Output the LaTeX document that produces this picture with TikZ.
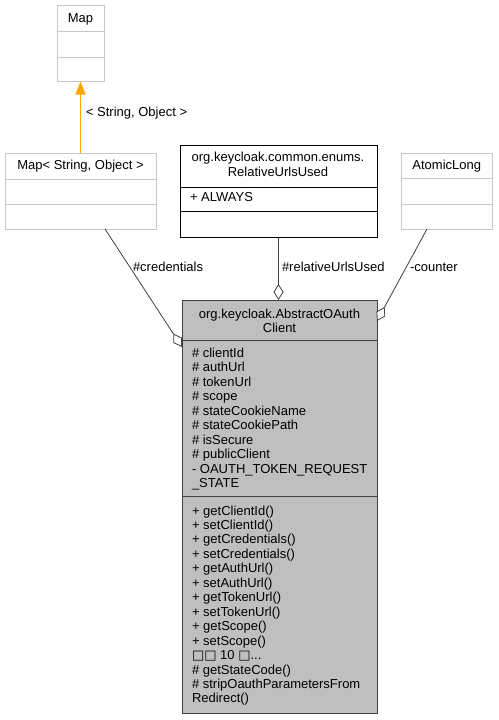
\documentclass[tikz,border=0pt]{standalone}
\usepackage{fontspec}
\setmainfont{Liberation Sans}
\newfontfamily\boxfont{DejaVu Sans}
\usetikzlibrary{arrows.meta, positioning}

\definecolor{klassgrau}{HTML}{BFBFBF}
\definecolor{randgrau}{HTML}{C8C8C8}
\definecolor{kantengrau}{HTML}{404040}
\definecolor{erborange}{HTML}{FFA500}

% ausgelassene Methoden (Zeichen fehlen im Original)
\newcommand{\weitere}{{\boxfont □□} 10 {\boxfont □}...}

\begin{document}
\begin{tikzpicture}[x=1pt, y=-1pt]

	% Stil für alle Knoten
	\tikzset{every node/.style={font=\fontsize{13}{14.5}\selectfont, inner sep=0pt, outer sep=0pt}}
	\tikzset{klasse/.style={rectangle, draw=randgrau, line width=1pt, fill=white},
		hauptklasse/.style={rectangle, draw=kantengrau, line width=1pt, fill=klassgrau},
		eintrag/.style={anchor=base west},
		titel/.style={anchor=base, align=center},
		assoz/.style={draw=kantengrau, line width=0.8pt, -{Diamond[open, length=16pt, width=10pt, fill=white]}},
		erbt/.style={draw=erborange, line width=1pt, -{Triangle[length=13pt, width=10pt]}}}

	\useasboundingbox (0,0) rectangle (498,720);

	% Map (oben)
	\node[klasse, minimum width=47, minimum height=76] (map) at (80.5,43.5) {};
	\draw[randgrau, line width=1pt] ([yshift=-25.5pt]map.north west) -- ([yshift=-25.5pt]map.north east);
	\draw[randgrau, line width=1pt] ([yshift=-51.5pt]map.north west) -- ([yshift=-51.5pt]map.north east);
	\node[titel] (map-name) at (80.5,22.5) {Map};

	% Map< String, Object >
	\node[klasse, minimum width=151, minimum height=76] (mapso) at (80.5,191) {};
	\draw[randgrau, line width=1pt] ([yshift=-26pt]mapso.north west) -- ([yshift=-26pt]mapso.north east);
	\draw[randgrau, line width=1pt] ([yshift=-51pt]mapso.north west) -- ([yshift=-51pt]mapso.north east);
	\node[titel] (mapso-name) at (80.5,169.5) {Map< String, Object >};

	% Vererbung (orange)
	\draw[erbt] (mapso.north) -- (map.south);
	\node[eintrag] (erbt-label) at (86,116.5) {< String, Object >};

	% RelativeUrlsUsed
	\node[klasse, draw=black, minimum width=197, minimum height=91.5] (rel) at (278.5,191.25) {};
	\draw[black, line width=1pt] ([yshift=-41.5pt]rel.north west) -- ([yshift=-41.5pt]rel.north east);
	\draw[black, line width=1pt] ([yshift=-66pt]rel.north west) -- ([yshift=-66pt]rel.north east);
	\node[titel] (rel-name1) at (278,161.5) {org.keycloak.common.enums.};
	\node[titel] (rel-name2) at (278,176) {RelativeUrlsUsed};
	\node[eintrag] (rel-attr) at (190,201.5) {+ ALWAYS};

	% AtomicLong
	\node[klasse, minimum width=90.5, minimum height=76] (atomic) at (446.75,191) {};
	\draw[randgrau, line width=1pt] ([yshift=-25.5pt]atomic.north west) -- ([yshift=-25.5pt]atomic.north east);
	\draw[randgrau, line width=1pt] ([yshift=-51pt]atomic.north west) -- ([yshift=-51pt]atomic.north east);
	\node[titel] (atomic-name) at (446.75,169.5) {AtomicLong};

	% AbstractOAuthClient (grau)
	\node[hauptklasse, minimum width=195, minimum height=413] (main) at (279.5,506.5) {};
	\draw[kantengrau, line width=1pt] ([yshift=-40.5pt]main.north west) -- ([yshift=-40.5pt]main.north east);
	\draw[kantengrau, line width=1pt] ([yshift=-196.5pt]main.north west) -- ([yshift=-196.5pt]main.north east);
	\node[titel] (main-name1) at (279.5,318) {org.keycloak.AbstractOAuth};
	\node[titel] (main-name2) at (279.5,332.5) {Client};

	% Attribute
	\foreach \txt [count=\i] in {\# clientId, \# authUrl, \# tokenUrl, \# scope,
		\# stateCookieName, \# stateCookiePath, \# isSecure, \# publicClient,
		- OAUTH\_TOKEN\_REQUEST, \_STATE}
		\node[eintrag] (attr-\i) at (192,357+14.5*\i-14.5) {\txt};

	% Methoden
	\foreach \txt [count=\i] in {+ getClientId(), + setClientId(), + getCredentials(),
		+ setCredentials(), + getAuthUrl(), + setAuthUrl(), + getTokenUrl(),
		+ setTokenUrl(), + getScope(), + setScope(), \weitere, \# getStateCode(),
		\# stripOauthParametersFrom, Redirect()}
		\node[eintrag] (meth-\i) at (192,515+14.46*\i-14.46) {\txt};

	% Assoziationen
	\draw[assoz] ([xshift=24.5pt]mapso.south) -- ([yshift=-47pt]main.north west);
	\node[eintrag] (cred-label) at (133,271.5) {\#credentials};

	\draw[assoz] (rel.south) -- (rel.south |- main.north);
	\node[eintrag] (rel-label) at (282,271.5) {\#relativeUrlsUsed};

	\draw[assoz] ([xshift=-19.75pt]atomic.south) -- ([yshift=-21pt]main.north east);
	\node[eintrag] (counter-label) at (410,271.5) {-counter};

\end{tikzpicture}
\end{document}
